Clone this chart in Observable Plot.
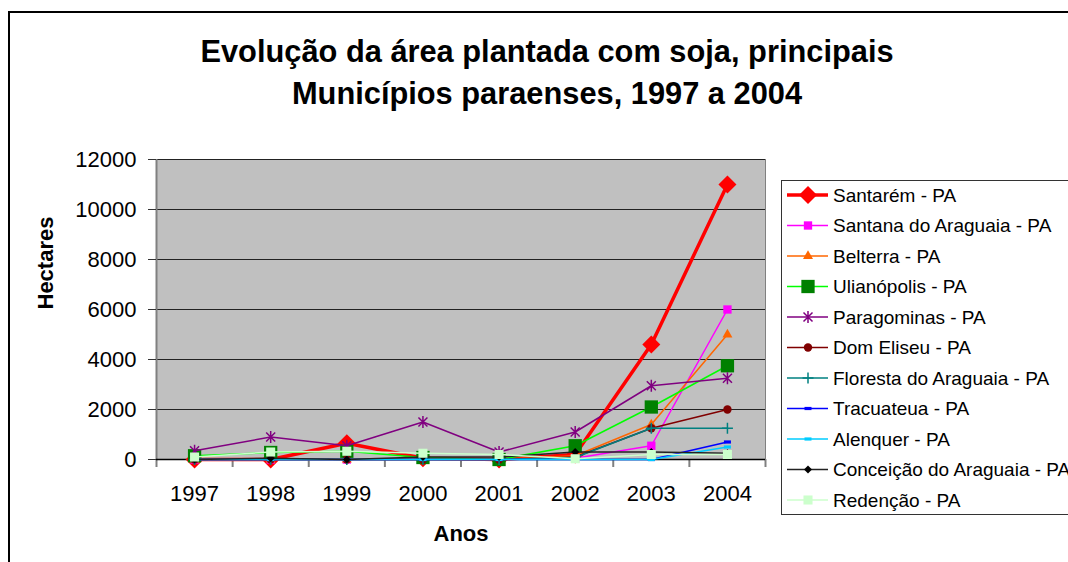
<!DOCTYPE html>
<html>
<head>
<meta charset="utf-8">
<script src="https://cdn.jsdelivr.net/npm/d3@7"></script>
<script src="https://cdn.jsdelivr.net/npm/@observablehq/plot@0.6"></script>
<style>
  html, body { margin: 0; padding: 0; background: #fff; }
  body { font-family: "Liberation Sans", Arial, sans-serif; }
  #wrap { position: relative; width: 1068px; height: 562px; overflow: hidden; background: #fff; }
  #outer { position: absolute; left: 8px; top: 11px; width: 1200px; height: 700px; border: 2px solid #000; box-sizing: border-box; z-index: 0; }
  #title { position: absolute; left: 0; top: 31.4px; width: 1094px; text-align: center; font-weight: bold; font-size: 30.8px; line-height: 42px; color: #000; z-index: 1; }
  #chart { position: absolute; left: 0; top: 130px; width: 1068px; z-index: 1; }
  #legend { position: absolute; left: 781px; top: 180px; z-index: 2; }
</style>
</head>
<body>
<div id="wrap">
  <div id="outer"></div>
  <div id="title">Evolução da área plantada com soja, principais<br>Municípios paraenses, 1997 a 2004</div>
  <div id="chart"></div>
  <div id="legend"></div>
</div>
<script>
// ---- Data ----
const years = [1997, 1998, 1999, 2000, 2001, 2002, 2003, 2004];
const yTicks = [0, 2000, 4000, 6000, 8000, 10000, 12000];
const seriesNames = [
  "Santarém - PA",
  "Santana do Araguaia - PA",
  "Belterra - PA",
  "Ulianópolis - PA",
  "Paragominas - PA",
  "Dom Eliseu - PA",
  "Floresta do Araguaia - PA",
  "Tracuateua - PA",
  "Alenquer - PA",
  "Conceição do Araguaia - PA",
  "Redenção - PA"
];
const santarem    = [0, 0, 650, 50, 0, 200, 4600, 11000];
const santana     = [0, 0, 0, 0, 0, 50, 550, 6000];
const belterra    = [0, 0, 0, 0, 0, 150, 1400, 5000];
const ulianopolis = [150, 280, 330, 80, 0, 550, 2100, 3750];
const paragominas = [350, 900, 550, 1500, 300, 1100, 2950, 3250];
const domEliseu   = [0, 0, 0, 0, 0, 100, 1250, 2000];
const floresta    = [0, 0, 0, 0, 0, 80, 1250, 1250];
const tracuateua  = [0, 0, 0, 0, 0, 0, 0, 700];
const alenquer    = [0, 0, 0, 0, 0, 0, 0, 500];
const conceicao   = [0, 50, 0, 100, 100, 300, 300, 250];
const redencao    = [100, 300, 330, 250, 200, 30, 200, 200];
const seriesValues = [santarem, santana, belterra, ulianopolis, paragominas, domEliseu,
                      floresta, tracuateua, alenquer, conceicao, redencao];

// ---- Styles (kept separate from data) ----
const starSym = { draw(ctx) { const r = 6, d = 4.5;
  ctx.moveTo(0, -r); ctx.lineTo(0, r);
  ctx.moveTo(-d, -d); ctx.lineTo(d, d);
  ctx.moveTo(-d, d); ctx.lineTo(d, -d); } };
const plusSym = { draw(ctx) { const r = 5.5;
  ctx.moveTo(-r, 0); ctx.lineTo(r, 0);
  ctx.moveTo(0, -r); ctx.lineTo(0, r); } };
const dashSym = { draw(ctx) { ctx.rect(-3.5, -1.6, 7, 3.2); } };

const styles = [
  { line: "#FF0000", lw: 3.5, sym: d3.symbolDiamond2, r: 8.1, fill: "#FF0000", stroke: "none" },
  { line: "#FF00FF", lw: 1.5, sym: d3.symbolSquare, r: 4.7, fill: "#FF00FF", stroke: "none" },
  { line: "#FF6600", lw: 1.5, sym: d3.symbolTriangle, r: 3.7, fill: "#FF6600", stroke: "none" },
  { line: "#00FF00", lw: 1.5, sym: d3.symbolSquare, r: 7.5, fill: "#008000", stroke: "none" },
  { line: "#800080", lw: 1.5, sym: starSym, r: 5, fill: "none", stroke: "#800080" },
  { line: "#800000", lw: 1.5, sym: d3.symbolCircle, r: 4.2, fill: "#800000", stroke: "none" },
  { line: "#008080", lw: 1.5, sym: plusSym, r: 5, fill: "none", stroke: "#008080" },
  { line: "#0000FF", lw: 1.5, sym: dashSym, r: 5, fill: "#0000FF", stroke: "none" },
  { line: "#00CCFF", lw: 1.5, sym: dashSym, r: 5, fill: "#00CCFF", stroke: "none" },
  { line: "#222222", lw: 1.5, sym: d3.symbolDiamond2, r: 3.6, fill: "#000000", stroke: "none" },
  { line: "#CCFFCC", lw: 1.5, sym: d3.symbolSquare, r: 5.1, fill: "#CCFFCC", stroke: "none" }
];

// ---- Long table ----
const table = seriesNames.flatMap((name, i) =>
  years.map((year, j) => ({ series: name, year, value: seriesValues[i][j] })));

const boundaries = d3.range(years.length + 1).map(i => years[0] - 0.5 + i);

const seriesMarks = seriesNames.flatMap((name, i) => {
  const s = styles[i];
  const data = table.filter(d => d.series === name);
  return [
    Plot.line(data, { x: "year", y: "value", stroke: s.line, strokeWidth: s.lw, strokeLinejoin: "round" }),
    Plot.dot(data, { x: "year", y: "value", symbol: s.sym, r: s.r, fill: s.fill, stroke: s.stroke,
                     strokeWidth: s.stroke === "none" ? 0 : 1.5 })
  ];
});

const chart = Plot.plot({
  width: 1068,
  height: 432,
  marginTop: 29,
  marginBottom: 103,
  marginLeft: 156,
  marginRight: 303,
  x: { domain: [boundaries[0], boundaries[boundaries.length - 1]], axis: null },
  y: { domain: [0, 12000], axis: null },
  style: { fontFamily: "'Liberation Sans', Arial, sans-serif", background: "transparent", overflow: "visible", color: "#000", maxWidth: "none" },
  marks: [
    Plot.frame({ fill: "#C0C0C0", stroke: "#808080", strokeWidth: 1 }),
    Plot.gridY(yTicks.filter(d => d > 0), { stroke: "#222", strokeOpacity: 1, strokeWidth: 1.2 }),
    Plot.ruleX([boundaries[0]], { y1: 0, y2: 12000, stroke: "#808080", strokeWidth: 2 }),
    Plot.axisX(boundaries, { tickSize: 8, tickFormat: () => "", label: null, stroke: "#808080", strokeWidth: 2 }),
    Plot.axisY(yTicks, { tickSize: 8, tickPadding: 12, fontSize: 22, label: null, tickFormat: d => String(d), stroke: "#333" }),
    Plot.axisX(years, { tickSize: 0, tickPadding: 26, fontSize: 22, label: null, tickFormat: d => String(d) }),
    Plot.ruleY([0], { stroke: "#000", strokeWidth: 1.5 }),
    ...seriesMarks,
    Plot.text(["Hectares"], { text: d => d, frameAnchor: "left", dx: -111, rotate: -90, fontSize: 22, fontWeight: "bold", fill: "#000" }),
    Plot.text(["Anos"], { text: d => d, frameAnchor: "bottom", dy: 74, fontSize: 22, fontWeight: "bold", fill: "#000", lineAnchor: "middle" })
  ]
});
document.getElementById("chart").appendChild(chart);

// ---- Legend ----
const lg = d3.select("#legend").append("svg").attr("width", 300).attr("height", 336)
  .style("display", "block").style("overflow", "visible");
lg.append("rect").attr("x", 0.5).attr("y", 0.5).attr("width", 400).attr("height", 334)
  .attr("fill", "#fff").attr("stroke", "#333").attr("stroke-width", 1);
seriesNames.forEach((name, i) => {
  const s = styles[i];
  const cy = 15 + i * 30.5;
  const g = lg.append("g").attr("transform", `translate(0,${cy})`);
  g.append("line").attr("x1", 6).attr("x2", 47).attr("y1", 0).attr("y2", 0)
    .attr("stroke", s.line).attr("stroke-width", s.lw);
  g.append("path").attr("transform", "translate(27,0)")
    .attr("d", d3.symbol(s.sym, Math.PI * s.r * s.r)())
    .attr("fill", s.fill).attr("stroke", s.stroke === "none" ? null : s.stroke)
    .attr("stroke-width", s.stroke === "none" ? null : 1.5);
  g.append("text").attr("x", 52).attr("y", 0).attr("dy", "0.35em")
    .attr("font-family", "'Liberation Sans', Arial, sans-serif").attr("font-size", 19)
    .attr("fill", "#000").text(name);
});
</script>
</body>
</html>
